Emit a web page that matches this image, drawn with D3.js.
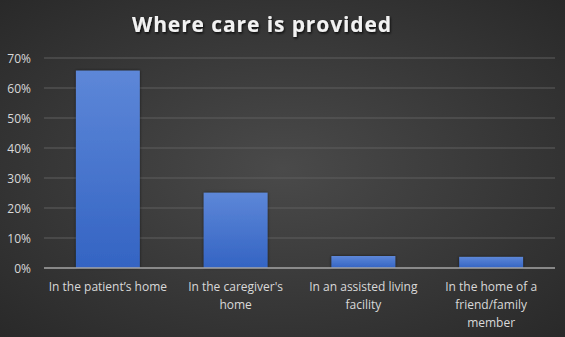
<!DOCTYPE html>
<html>
<head>
<meta charset="utf-8">
<script src="https://cdn.jsdelivr.net/npm/d3@7"></script>
<style>
  body { margin: 0; background: #333; }
  svg { display: block; }
</style>
</head>
<body>
<div id="vis"></div>
<script>
// chart data
const categories = [
  ["In the patient\u2019s home"],
  ["In the caregiver's", "home"],
  ["In an assisted living", "facility"],
  ["In the home of a", "friend/family", "member"]
];
const shares = [0.658, 0.251, 0.04, 0.037];
const tickValues = [0, 0.1, 0.2, 0.3, 0.4, 0.5, 0.6, 0.7];

const width = 565;
const height = 337;
const margin = { top: 58, right: 10, bottom: 69, left: 44 };

const svg = d3.select('#vis')
  .append('svg')
  .attr('width', width)
  .attr('height', height);

const defs = svg.append('defs');

// background: dark radial gradient, lighter toward the middle
const bg = defs.append('radialGradient')
  .attr('id', 'bg')
  .attr('cx', '50%').attr('cy', '50%').attr('r', '75%');
bg.append('stop').attr('offset', '0%').attr('stop-color', '#4a4a4a');
bg.append('stop').attr('offset', '100%').attr('stop-color', '#272727');

const barFill = defs.append('linearGradient')
  .attr('id', 'barFill')
  .attr('x1', 0).attr('y1', 0).attr('x2', 0).attr('y2', 1);
barFill.append('stop').attr('offset', '0%').attr('stop-color', '#5d87d8');
barFill.append('stop').attr('offset', '100%').attr('stop-color', '#3464c3');

const shadow = defs.append('filter').attr('id', 'shadow')
  .attr('x', '-20%').attr('y', '-20%').attr('width', '140%').attr('height', '140%');
shadow.append('feDropShadow')
  .attr('dx', 0).attr('dy', 0).attr('stdDeviation', 1.5)
  .attr('flood-color', '#000').attr('flood-opacity', 0.6);

const titleShadow = defs.append('filter').attr('id', 'titleShadow');
titleShadow.append('feDropShadow')
  .attr('dx', 1).attr('dy', 1.5).attr('stdDeviation', 1)
  .attr('flood-color', '#000').attr('flood-opacity', 0.8);

svg.append('rect')
  .attr('width', width)
  .attr('height', height)
  .attr('fill', 'url(#bg)');

svg.append('text')
  .attr('x', 262)
  .attr('y', 32)
  .attr('text-anchor', 'middle')
  .attr('fill', '#f2f2f2')
  .attr('filter', 'url(#titleShadow)')
  .style('font-family', '"Open Sans", sans-serif')
  .style('font-weight', 'bold')
  .style('font-size', '21px')
  .style('letter-spacing', '0.9px')
  .text('Where care is provided');

const x = d3.scaleBand()
  .domain(d3.range(categories.length))
  .range([margin.left, width - margin.right])
  .paddingInner(0.5)
  .paddingOuter(0.25);

const y = d3.scaleLinear()
  .domain([0, 0.7])
  .range([height - margin.bottom, margin.top]);

// gridlines
svg.append('g')
  .selectAll('line')
  .data(tickValues.slice(1))
  .enter()
  .append('line')
  .attr('x1', margin.left)
  .attr('x2', width - margin.right)
  .attr('y1', d => y(d))
  .attr('y2', d => y(d))
  .attr('stroke', '#5f5f5f')
  .attr('stroke-width', 1);

// y axis labels
const yAxis = svg.append('g')
  .attr('transform', `translate(${margin.left - 10},0)`)
  .call(d3.axisLeft(y).tickValues(tickValues).tickFormat(d3.format('.0%')).tickSize(0));
yAxis.select('.domain').remove();
yAxis.selectAll('text')
  .attr('fill', '#d9d9d9')
  .attr('dy', '0.35em')
  .style('font-family', '"Open Sans", sans-serif')
  .style('font-size', '12px');

// bars
svg.append('g')
  .selectAll('rect')
  .data(shares)
  .enter()
  .append('rect')
  .attr('x', (d, i) => x(i))
  .attr('y', d => y(d))
  .attr('width', x.bandwidth())
  .attr('height', d => y(0) - y(d))
  .attr('fill', 'url(#barFill)')
  .attr('filter', 'url(#shadow)');

// baseline
svg.append('line')
  .attr('x1', margin.left)
  .attr('x2', width - margin.right)
  .attr('y1', y(0))
  .attr('y2', y(0))
  .attr('stroke', '#a6a6a6')
  .attr('stroke-width', 1.5);

// category labels
const labels = svg.append('g')
  .selectAll('text')
  .data(categories)
  .enter()
  .append('text')
  .attr('x', (d, i) => x(i) + x.bandwidth() / 2)
  .attr('y', y(0) + 23)
  .attr('text-anchor', 'middle')
  .attr('fill', '#d9d9d9')
  .style('font-family', '"Open Sans", sans-serif')
  .style('font-size', '12px');

labels.selectAll('tspan')
  .data(d => d)
  .enter()
  .append('tspan')
  .attr('x', function() { return this.parentNode.getAttribute('x'); })
  .attr('dy', (d, i) => i === 0 ? 0 : 18)
  .text(d => d);
</script>
</body>
</html>
